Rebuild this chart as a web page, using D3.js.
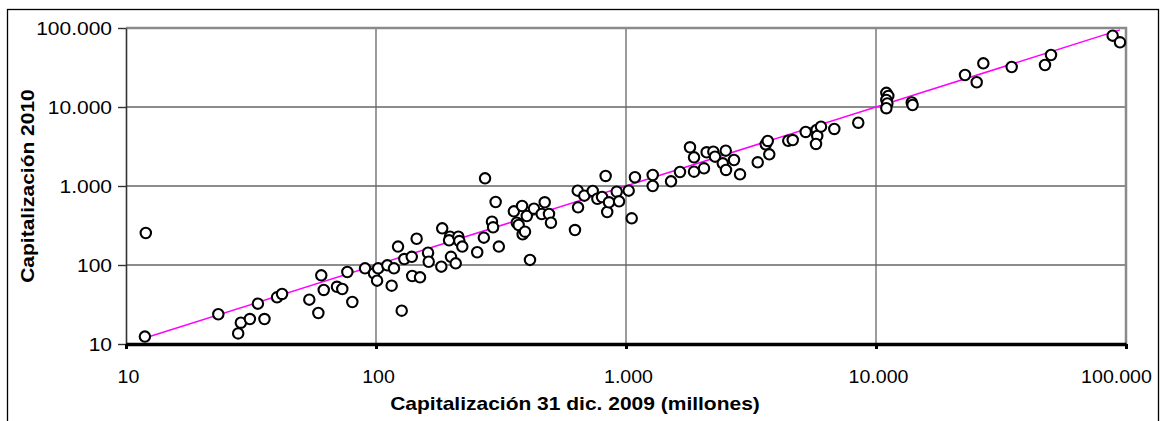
<!DOCTYPE html>
<html>
<head>
<meta charset="utf-8">
<script src="https://cdn.jsdelivr.net/npm/d3@7"></script>
<style>
  html, body { margin: 0; padding: 0; background: #fff; }
  svg { display: block; }
</style>
</head>
<body>
<div id="chart"></div>
<script>
// Capitalization at 31 Dec 2009 (millions) and in 2010, one entry per company
const cap2009 = [
  12, 11.9, 23.4, 28.1, 28.8, 31.3, 33.7, 35.8, 40.2, 42.1,
  54.1, 58.8, 60.4, 61.8, 69.8, 73.3, 80.4, 76.8, 90.4, 98.2,
  101, 102, 111, 118, 115.5, 126.7, 129.8, 139, 139.6, 145.4,
  122.5, 150, 161.5, 162.5, 182.5, 184, 197.7, 196, 199.5, 208.4,
  213.5, 215.4, 221.4, 254, 270, 273, 291, 294, 301, 310,
  356, 365.6, 372, 384, 401, 386, 394.5, 413, 428.5, 460,
  473, 492, 501, 625, 641, 643, 681, 736, 768, 802,
  829, 841, 855, 918, 938, 1025, 1054, 1086, 1279, 1279,
  1514, 1644, 1803, 1871, 1871, 2051, 2102, 2235, 2270, 2438,
  2506, 2512, 2704, 2858, 3364, 3622, 3690, 3742, 4457, 4645,
  5233, 5790, 5820, 5754, 6026, 6811, 8492, 11000, 11200, 11000,
  11100, 11000, 13900, 14000, 22700, 25280, 26870, 34890, 47420, 50120,
  88430, 94620
];
const cap2010 = [
  254, 12.4, 23.8, 13.6, 18.6, 20.7, 32.4, 20.7, 39, 43,
  36.4, 24.7, 74, 48.3, 53, 49.7, 34, 81.5, 90.8, 78.5,
  63.3, 90.8, 99, 90.8, 54.7, 26.4, 119, 127, 72.6, 215,
  171, 69.8, 143, 110, 95.2, 291, 228, 205, 127, 105,
  228, 201, 171, 145, 222, 1250, 353, 300, 627, 171,
  478, 343, 321, 558, 417, 245, 264, 116, 516, 442,
  622, 442, 343, 277, 873, 537, 754, 865, 690, 726,
  1340, 469, 622, 847, 640, 873, 390, 1290, 1377, 1000,
  1146, 1503, 3090, 2307, 1517, 1675, 2672, 2718, 2350, 1937,
  2800, 1596, 2133, 1406, 1995, 3373, 3715, 2518, 3741, 3819,
  4831, 5117, 4295, 3404, 5636, 5272, 6324, 15100, 13800, 12300,
  11100, 9650, 11400, 10600, 25400, 20560, 35730, 32100, 34000, 45500,
  79970, 65900
];

const tickValues = [10, 100, 1000, 10000, 100000];
const tickLabels = ["10", "100", "1.000", "10.000", "100.000"];

const xTitle = "Capitalización 31 dic. 2009 (millones)";
const yTitle = "Capitalización 2010";

const W = 1162, H = 421;
const FONT = "'Liberation Sans', Arial, sans-serif";
const STRETCH = 1.2;   // the original text is rendered a bit wide

const plot = {left: 126, right: 1126, top: 28, bottom: 344};

const svg = d3.select('#chart').append('svg')
    .attr('width', W)
    .attr('height', H);

svg.append('rect')
    .attr('width', W).attr('height', H)
    .attr('fill', '#fff');

// outer chart border (bottom edge runs off the picture)
svg.append('rect')
    .attr('x', 7.5).attr('y', 9.5)
    .attr('width', 1151).attr('height', 500)
    .attr('fill', 'none')
    .attr('stroke', '#000')
    .attr('stroke-width', 1.3);

const x = d3.scaleLog().domain([10, 100000]).range([plot.left, plot.right]);
const y = d3.scaleLog().domain([10, 100000]).range([plot.bottom, plot.top]);

// gridlines
const grid = svg.append('g');
grid.selectAll('line.h')
    .data(tickValues.slice(1, -1))
    .enter().append('line')
    .attr('x1', plot.left).attr('x2', plot.right)
    .attr('y1', d => y(d)).attr('y2', d => y(d))
    .attr('stroke', '#666').attr('stroke-width', 1.3);
grid.selectAll('line.v')
    .data(tickValues.slice(1, -1))
    .enter().append('line')
    .attr('y1', plot.top).attr('y2', plot.bottom)
    .attr('x1', d => x(d)).attr('x2', d => x(d))
    .attr('stroke', '#666').attr('stroke-width', 1.3);

// plot frame top / right
svg.append('path')
    .attr('d', `M${plot.left},${plot.top}H${plot.right}V${plot.bottom}`)
    .attr('fill', 'none')
    .attr('stroke', '#8a8a8a')
    .attr('stroke-width', 2.5);

// y axis
const yAxis = d3.axisLeft(y)
    .tickValues(tickValues)
    .tickFormat((d, i) => tickLabels[i])
    .tickSizeInner(8)
    .tickSizeOuter(0)
    .tickPadding(6);

const gy = svg.append('g')
    .attr('transform', `translate(${plot.left},0)`)
    .call(yAxis);
gy.select('.domain').attr('stroke', '#333').attr('stroke-width', 1.6);
gy.selectAll('.tick line').attr('stroke', '#333').attr('stroke-width', 1.4);
gy.selectAll('.tick text')
    .attr('x', 0)
    .attr('dy', '0.36em')
    .attr('transform', `translate(-14,0) scale(${STRETCH},1)`)
    .style('font-family', FONT)
    .style('font-size', '17.5px')
    .style('fill', '#000');

// x axis
const xAxis = d3.axisBottom(x)
    .tickValues(tickValues)
    .tickFormat((d, i) => tickLabels[i])
    .tickSizeInner(5)
    .tickSizeOuter(0);

const gx = svg.append('g')
    .attr('transform', `translate(0,${plot.bottom})`)
    .call(xAxis);
gx.select('.domain').attr('stroke', '#000').attr('stroke-width', 3.5);
gx.selectAll('.tick line').attr('stroke', '#000').attr('stroke-width', 3);
// the last label is pushed inward so it stays inside the chart border
gx.selectAll('.tick text')
    .attr('y', 0)
    .attr('dy', null)
    .attr('transform', (d, i) => `translate(${i === tickValues.length - 1 ? -10 : 2},39) scale(1.12,1)`)
    .style('font-family', FONT)
    .style('font-size', '17.5px')
    .style('fill', '#000');

// reference line y = x over the data range
const xMin = d3.min(cap2009), xMax = d3.max(cap2009);
svg.append('line')
    .attr('x1', x(xMin)).attr('y1', y(xMin))
    .attr('x2', x(xMax)).attr('y2', y(xMax))
    .attr('stroke', '#ff00ff')
    .attr('stroke-width', 1.5);

// points
const points = cap2009.map((v, i) => ({x: v, y: cap2010[i]}));
svg.append('g')
    .selectAll('circle')
    .data(points)
    .enter().append('circle')
    .attr('cx', d => x(d.x))
    .attr('cy', d => y(d.y))
    .attr('r', 5.2)
    .attr('fill', '#fff')
    .attr('stroke', '#000')
    .attr('stroke-width', 2.1);

// axis titles
svg.append('text')
    .attr('transform', `translate(575,410) scale(${STRETCH},1)`)
    .attr('text-anchor', 'middle')
    .style('font-family', FONT)
    .style('font-size', '17.5px')
    .style('font-weight', 'bold')
    .text(xTitle);

svg.append('text')
    .attr('transform', `translate(34,186) rotate(-90) scale(${STRETCH},1)`)
    .attr('text-anchor', 'middle')
    .style('font-family', FONT)
    .style('font-size', '17.5px')
    .style('font-weight', 'bold')
    .text(yTitle);
</script>
</body>
</html>
